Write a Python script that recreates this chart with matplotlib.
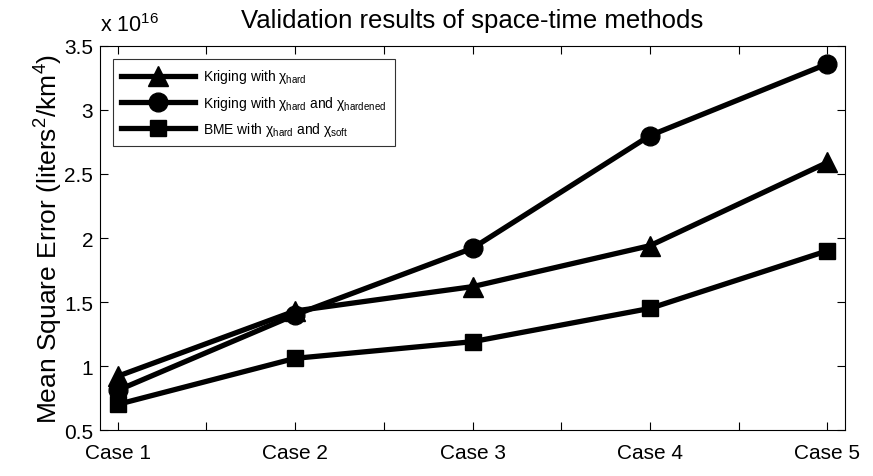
import numpy as np
import matplotlib.pyplot as plt

plt.rcParams['font.family'] = ['Liberation Sans', 'DejaVu Sans']
plt.rcParams['mathtext.fontset'] = 'custom'
plt.rcParams['mathtext.rm'] = 'Liberation Sans'
plt.rcParams['mathtext.it'] = 'Liberation Sans'

# data (units of 1e16 liters^2/km^4)
cases = ['Case 1', 'Case 2', 'Case 3', 'Case 4', 'Case 5']
kriging_hard = [0.92, 1.43, 1.62, 1.94, 2.59]
kriging_hardened = [0.81, 1.40, 1.92, 2.80, 3.36]
bme_soft = [0.70, 1.06, 1.19, 1.45, 1.90]
labels = [r'Kriging with $\chi_{\mathrm{hard}}$',
          r'Kriging with $\chi_{\mathrm{hard}}$ and $\chi_{\mathrm{hardened}}$',
          r'BME with $\chi_{\mathrm{hard}}$ and $\chi_{\mathrm{soft}}$']

x = np.arange(1, len(cases) + 1)

fig = plt.figure(figsize=(8.73, 4.77), dpi=100)
ax = fig.add_axes([0.1145, 0.0964, 0.8535, 0.8051])

ax.plot(x, kriging_hard, 'k-^', lw=3.8, ms=14, label=labels[0])
ax.plot(x, kriging_hardened, 'k-o', lw=3.8, ms=13.5, label=labels[1])
ax.plot(x, bme_soft, 'k-s', lw=3.8, ms=12, label=labels[2])

ax.set_xlim(0.9, 5.1)
ax.set_ylim(0.5, 3.5)
xt = np.arange(1, 5.01, 0.5)
ax.set_xticks(xt)
ax.set_xticklabels([cases[int(v) - 1] if v == int(v) else '' for v in xt])
ax.set_yticks(np.arange(0.5, 3.51, 0.5))
ax.set_yticklabels(['0.5', '1', '1.5', '2', '2.5', '3', '3.5'])
ax.tick_params(direction='in', top=True, right=True, length=5.5, labelsize=15, pad=5)
ax.tick_params(axis='x', pad=9)

ax.set_title('Validation results of space-time methods', fontsize=18.5, pad=14)
ax.set_ylabel(r'Mean Square Error (liters$^2$/km$^4$)', fontsize=19, labelpad=-1)
ax.text(0.0, 1.025, r'x 10$^{16}$', transform=ax.transAxes, fontsize=15.5, va='bottom')

leg = ax.legend(loc='upper left', fontsize=10, handlelength=5.3, handletextpad=0.6,
                frameon=True, fancybox=False, edgecolor='k', borderaxespad=0.94,
                labelspacing=0.6, borderpad=0.6)
leg.get_frame().set_linewidth(0.8)

plt.savefig('out.png', dpi=100)
